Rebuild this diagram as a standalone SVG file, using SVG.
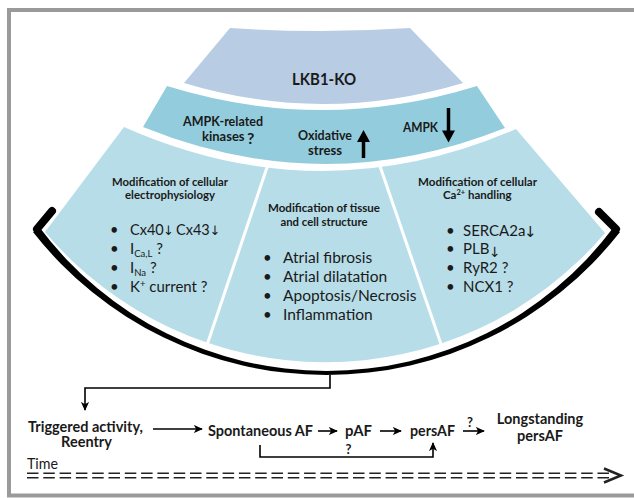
<svg xmlns="http://www.w3.org/2000/svg" width="634" height="498" viewBox="0 0 634 498">
<style>
.b{font-family:Lato,'Open Sans','Liberation Sans',sans-serif;font-weight:700;fill:#1a1a1a}
.r{font-family:Lato,'Open Sans','Liberation Sans',sans-serif;font-weight:400;fill:#1a1a1a}
.arr{font-family:'DejaVu Sans',sans-serif;font-weight:400}
.m{text-anchor:middle}
.ln{fill:none;stroke:#000;stroke-width:1.6}
.dash{stroke:#222;stroke-width:1.5;stroke-dasharray:11.5 4.8}
</style>
<defs>
<marker id="ah" viewBox="0 0 10 10" refX="9" refY="5" markerWidth="9" markerHeight="9" markerUnits="userSpaceOnUse" orient="auto"><path d="M0,0.5 L10,5 L0,9.5 L2.5,5 Z" fill="#000"/></marker>
<clipPath id="outerClip"><path d="M45,232 L124,127 Q320,214 516,129 L605,233 A367 367 0 0 1 45,232 Z"/></clipPath>
</defs>
<rect width="634" height="498" fill="#fff"/>
<rect x="9" y="10" width="700" height="485.5" fill="#fff" stroke="#9a9a9a" stroke-width="4"/>

<g id="lkb1">
<path d="M230,28 Q320,34 410,28 L463,83 Q323,125 184,83 Z" fill="#b8cce4"/>
<text class="b m" x="324" y="85" font-size="17" textLength="64" lengthAdjust="spacingAndGlyphs">LKB1-KO</text>
</g>

<g id="ampk-band">
<path d="M167,86 Q322,134 477,86 L505,128 Q324,200.5 143,127 Z" fill="#93cddd"/>
<text class="b m" x="223" y="126" font-size="13" textLength="80" lengthAdjust="spacingAndGlyphs">AMPK-related</text>
<text class="b" x="202" y="141" font-size="13">kinases<tspan x="247" y="144" font-size="16">?</tspan></text>
<text class="b m" x="325" y="140" font-size="13" textLength="54" lengthAdjust="spacingAndGlyphs">Oxidative</text>
<text class="b m" x="325" y="155" font-size="13" textLength="34" lengthAdjust="spacingAndGlyphs">stress</text>
<line x1="363.5" y1="158" x2="363.5" y2="139" stroke="#000" stroke-width="3.5"/>
<path d="M357,142 L363.5,130 L370,142 Z" fill="#000"/>
<text class="b m" x="420.5" y="131.5" font-size="13" textLength="35" lengthAdjust="spacingAndGlyphs">AMPK</text>
<line x1="448.5" y1="108" x2="448.5" y2="133" stroke="#000" stroke-width="3.5"/>
<path d="M442,130.5 L448.5,142.5 L455,130.5 Z" fill="#000"/>
</g>

<g id="electrophysiology">
<path d="M0,100 L288.2,100 L186.8,400 L0,400 Z" fill="#b7dde8" clip-path="url(#outerClip)"/>
<text class="b m" x="170" y="185.5" font-size="11.5" textLength="116" lengthAdjust="spacingAndGlyphs">Modification of cellular</text>
<text class="b m" x="170" y="199" font-size="11.5" textLength="90" lengthAdjust="spacingAndGlyphs">electrophysiology</text>
<text class="r" x="110" y="235" font-size="14.5">•<tspan x="130">Cx40</tspan><tspan class="arr" x="163" font-size="13">↓</tspan><tspan x="176">Cx43</tspan><tspan class="arr" x="209.5" font-size="13">↓</tspan></text>
<text class="r" x="110" y="254" font-size="15">•<tspan x="130">I</tspan><tspan font-size="9.5" dy="3">Ca,L</tspan><tspan dy="-3"> ?</tspan></text>
<text class="r" x="110" y="273" font-size="15">•<tspan x="130">I</tspan><tspan font-size="9.5" dy="3">Na</tspan><tspan dy="-3"> ?</tspan></text>
<text class="r" x="110" y="292" font-size="15">•<tspan x="130">K</tspan><tspan font-size="9.5" dy="-5">+</tspan><tspan dy="5"> current ?</tspan></text>
</g>

<g id="tissue-structure">
<path d="M291.4,100 L355.7,100 L458.6,400 L190,400 Z" fill="#b7dde8" clip-path="url(#outerClip)"/>
<text class="b m" x="324" y="212" font-size="11.5" textLength="112" lengthAdjust="spacingAndGlyphs">Modification of tissue</text>
<text class="b m" x="324" y="226" font-size="11.5" textLength="87" lengthAdjust="spacingAndGlyphs">and cell structure</text>
<text class="r" x="263" y="263" font-size="15">•<tspan x="283" font-size="15.5">Atrial fibrosis</tspan></text>
<text class="r" x="263" y="282" font-size="15">•<tspan x="283" font-size="15.5">Atrial dilatation</tspan></text>
<text class="r" x="263" y="301" font-size="15">•<tspan x="283" font-size="15.5">Apoptosis/Necrosis</tspan></text>
<text class="r" x="263" y="320" font-size="15">•<tspan x="283" font-size="15.5">Inflammation</tspan></text>
</g>

<g id="ca-handling">
<path d="M358.9,100 L634,100 L634,400 L461.8,400 Z" fill="#b7dde8" clip-path="url(#outerClip)"/>
<text class="b m" x="477.5" y="185.5" font-size="11.5" textLength="119" lengthAdjust="spacingAndGlyphs">Modification of cellular</text>
<text class="b" x="443" y="199" font-size="11.5">Ca<tspan font-size="7.5" dy="-4.5">2+</tspan><tspan dy="4.5"> handling</tspan></text>
<text class="r" x="446" y="235.5" font-size="15">•<tspan x="463">SERCA2a</tspan><tspan class="arr" x="524" font-size="15" dy="1.5">↓</tspan></text>
<text class="r" x="446" y="254" font-size="15">•<tspan x="463">PLB</tspan><tspan class="arr" x="489" font-size="14" dy="2.5">↓</tspan></text>
<text class="r" x="446" y="273" font-size="15">•<tspan x="463">RyR2 ?</tspan></text>
<text class="r" x="446" y="292" font-size="15">•<tspan x="463">NCX1 ?</tspan></text>
</g>

<g id="bracket">
<path d="M33,232 A372.7 372.7 0 0 0 620,232 L613,228 A358.5 358.5 0 0 1 40,228 Z" fill="#000"/>
<path d="M37,229 L52,211" stroke="#000" stroke-width="8" stroke-linecap="round"/>
<path d="M616,229 L599,212" stroke="#000" stroke-width="8" stroke-linecap="round"/>
</g>

<g id="triggered">
<text class="b m" x="85.5" y="431.5" font-size="14.5">Triggered activity,<tspan x="86.5" y="447">Reentry</tspan></text>
</g>
<g id="spontaneous"><text class="b" x="208" y="436" font-size="15" textLength="105" lengthAdjust="spacingAndGlyphs">Spontaneous AF</text></g>
<g id="paf"><text class="b" x="345" y="436" font-size="15" textLength="27" lengthAdjust="spacingAndGlyphs">pAF</text></g>
<g id="persaf"><text class="b" x="410" y="436" font-size="15" textLength="45" lengthAdjust="spacingAndGlyphs">persAF</text></g>
<g id="longstanding">
<text class="b m" x="540" y="424" font-size="14.5">Longstanding<tspan x="540" y="441">persAF</tspan></text>
</g>
<g id="time">
<text class="r" x="27" y="469" font-size="15" textLength="31" lengthAdjust="spacingAndGlyphs">Time</text>
<line class="dash" x1="27" y1="473.3" x2="612" y2="473.3"/>
<line class="dash" x1="27" y1="477.7" x2="612" y2="477.7"/>
<path d="M604,468.5 L621,475.5 L604,482.5" fill="none" stroke="#222" stroke-width="2.5"/>
</g>

<g id="connectors">
<path class="ln" d="M330,375 L330,388 L85,388 L85,410" marker-end="url(#ah)"/>
<line class="ln" x1="153" y1="429" x2="202" y2="429" marker-end="url(#ah)"/>
<line class="ln" x1="318" y1="431" x2="337" y2="431" marker-end="url(#ah)"/>
<line class="ln" x1="380" y1="431" x2="401" y2="431" marker-end="url(#ah)"/>
<line class="ln" x1="463" y1="431" x2="484" y2="431" marker-end="url(#ah)"/>
<text class="b m" x="470" y="427" font-size="13">?</text>
<path class="ln" d="M260,445 L260,457 L433,457 L433,443" marker-end="url(#ah)"/>
<text class="b m" x="348.5" y="454" font-size="13">?</text>
</g>
</svg>
